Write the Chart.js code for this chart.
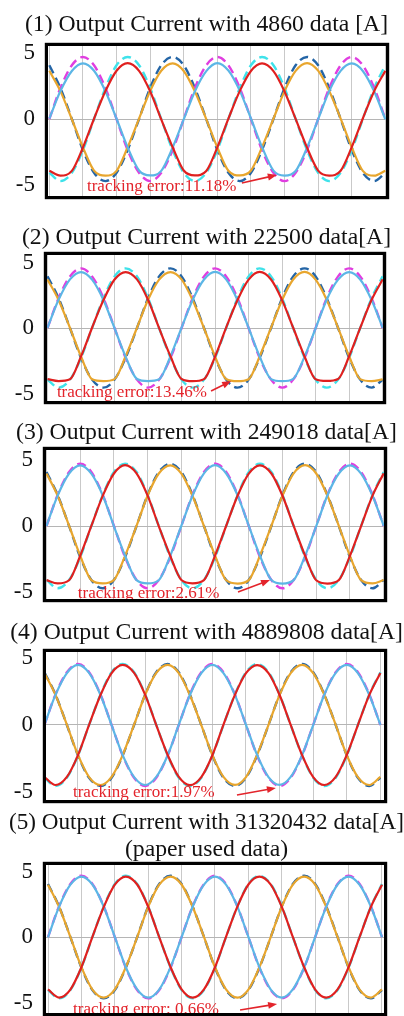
<!DOCTYPE html>
<html>
<head>
<meta charset="utf-8">
<script src="https://cdn.jsdelivr.net/npm/chart.js@4.4.1/dist/chart.umd.min.js"></script>
<style>
html,body{margin:0;padding:0;background:#fff;width:404px;height:1016px;overflow:hidden;position:relative;}
canvas{position:absolute;left:0;}
</style>
</head>
<body>
<script>
// ---------- DATA ----------
// sample times in grid divisions (one division per vertical grid line)
const time = [0,0.33,0.67,1,1.33,1.67,2,2.33,2.67,3,3.33,3.67,4,4.33,4.67,5,5.33,5.67,6,6.33,6.67,7,7.33,7.67,8,8.33,8.67,9,9.33,9.67,10];
const yTickValues = [-5, 0, 5];
const panelTitles = [
  ["(1) Output Current with 4860 data [A]"],
  ["(2) Output Current with 22500 data[A]"],
  ["(3) Output Current with 249018 data[A]"],
  ["(4) Output Current with 4889808 data[A]"],
  ["(5) Output Current with 31320432 data[A]", "(paper used data)"]
];
const errorLabels = ["tracking error:11.18%", "tracking error:13.46%", "tracking error:2.61%", "tracking error:1.97%", "tracking error: 0.66%"];

// Panel 1 (4860 data)
const p1Blue   = [0.04,2.12,3.64,4.22,3.66,2.10,0.02,-2.14,-3.90,-4.27,-3.93,-2.16,-0.03,2.09,3.63,4.24,3.67,2.13,0.04,-2.12,-3.91,-4.29,-3.94,-2.17,-0.02,2.11,3.65,4.21,3.64,2.08,-0.02];
const p1Red    = [-3.92,-4.28,-3.93,-2.16,0.02,2.12,3.66,4.23,3.65,2.10,-0.03,-2.14,-3.90,-4.27,-3.94,-2.15,0.03,2.13,3.64,4.21,3.63,2.09,0.01,-2.17,-3.91,-4.29,-3.92,-2.13,0.04,2.12,3.65];
const p1Yellow = [3.65,2.11,-0.02,-2.15,-3.91,-4.28,-3.93,-2.14,0.03,2.12,3.66,4.22,3.64,2.10,-0.01,-2.16,-3.92,-4.27,-3.90,-2.13,0.02,2.11,3.65,4.24,3.66,2.12,0.03,-2.14,-3.93,-4.29,-3.91];
const p1RefBlue   = [0,2.35,4.07,4.70,4.07,2.35,0,-2.35,-4.07,-4.70,-4.07,-2.35,0,2.35,4.07,4.70,4.07,2.35,0,-2.35,-4.07,-4.70,-4.07,-2.35,0,2.35,4.07,4.70,4.07,2.35,0];
const p1RefRed    = [-4.07,-4.70,-4.07,-2.35,0,2.35,4.07,4.70,4.07,2.35,0,-2.35,-4.07,-4.70,-4.07,-2.35,0,2.35,4.07,4.70,4.07,2.35,0,-2.35,-4.07,-4.70,-4.07,-2.35,0,2.35,4.07];
const p1RefYellow = [4.07,2.35,0,-2.35,-4.07,-4.70,-4.07,-2.35,0,2.35,4.07,4.70,4.07,2.35,0,-2.35,-4.07,-4.70,-4.07,-2.35,0,2.35,4.07,4.70,4.07,2.35,0,-2.35,-4.07,-4.70,-4.07];

// Panel 2 (22500 data)
const p2Blue   = [0.02,2.15,3.71,4.27,3.69,2.13,-0.02,-2.18,-3.89,-4.05,-3.91,-2.16,0.03,2.14,3.70,4.28,3.71,2.12,0.01,-2.17,-3.90,-4.06,-3.88,-2.18,-0.02,2.16,3.69,4.26,3.70,2.14,0.02];
const p2Red    = [-3.90,-4.05,-3.91,-2.17,0.02,2.13,3.70,4.27,3.71,2.15,-0.01,-2.16,-3.89,-4.06,-3.90,-2.18,0.03,2.14,3.69,4.28,3.70,2.13,0.02,-2.17,-3.91,-4.04,-3.89,-2.16,0.01,2.15,3.71];
const p2Yellow = [3.70,2.14,0.01,-2.17,-3.91,-4.05,-3.90,-2.16,0.02,2.15,3.69,4.27,3.71,2.13,-0.02,-2.18,-3.89,-4.06,-3.91,-2.17,0.03,2.14,3.70,4.28,3.69,2.15,0.01,-2.16,-3.90,-4.05,-3.92];
const p2RefBlue   = [0,2.28,3.94,4.55,3.94,2.28,0,-2.28,-3.94,-4.55,-3.94,-2.28,0,2.28,3.94,4.55,3.94,2.28,0,-2.28,-3.94,-4.55,-3.94,-2.28,0,2.28,3.94,4.55,3.94,2.28,0];
const p2RefRed    = [-3.94,-4.55,-3.94,-2.28,0,2.28,3.94,4.55,3.94,2.28,0,-2.28,-3.94,-4.55,-3.94,-2.28,0,2.28,3.94,4.55,3.94,2.28,0,-2.28,-3.94,-4.55,-3.94,-2.28,0,2.28,3.94];
const p2RefYellow = [3.94,2.28,0,-2.28,-3.94,-4.55,-3.94,-2.28,0,2.28,3.94,4.55,3.94,2.28,0,-2.28,-3.94,-4.55,-3.94,-2.28,0,2.28,3.94,4.55,3.94,2.28,0,-2.28,-3.94,-4.55,-3.94];

// Panel 3 (249018 data)
const p3Blue   = [0.01,2.30,3.98,4.60,3.97,2.31,-0.02,-2.25,-4.10,-4.35,-4.11,-2.26,0.02,2.29,3.99,4.61,3.98,2.30,0.01,-2.24,-4.09,-4.36,-4.10,-2.25,-0.01,2.31,3.98,4.60,3.97,2.29,0.02];
const p3Red    = [-4.10,-4.35,-4.11,-2.25,0.01,2.30,3.98,4.61,3.99,2.30,-0.01,-2.26,-4.09,-4.34,-4.10,-2.24,0.02,2.31,3.97,4.60,3.98,2.29,0.01,-2.25,-4.11,-4.36,-4.10,-2.26,-0.01,2.30,3.99];
const p3Yellow = [3.98,2.30,0.02,-2.25,-4.10,-4.35,-4.09,-2.26,0.01,2.31,3.98,4.60,3.97,2.29,-0.01,-2.24,-4.11,-4.36,-4.10,-2.25,0.02,2.30,3.99,4.61,3.98,2.31,0.01,-2.26,-4.10,-4.35,-4.09];
const p3RefBlue   = [0,2.36,4.09,4.72,4.09,2.36,0,-2.36,-4.09,-4.72,-4.09,-2.36,0,2.36,4.09,4.72,4.09,2.36,0,-2.36,-4.09,-4.72,-4.09,-2.36,0,2.36,4.09,4.72,4.09,2.36,0];
const p3RefRed    = [-4.09,-4.72,-4.09,-2.36,0,2.36,4.09,4.72,4.09,2.36,0,-2.36,-4.09,-4.72,-4.09,-2.36,0,2.36,4.09,4.72,4.09,2.36,0,-2.36,-4.09,-4.72,-4.09,-2.36,0,2.36,4.09];
const p3RefYellow = [4.09,2.36,0,-2.36,-4.09,-4.72,-4.09,-2.36,0,2.36,4.09,4.72,4.09,2.36,0,-2.36,-4.09,-4.72,-4.09,-2.36,0,2.36,4.09,4.72,4.09,2.36,0,-2.36,-4.09,-4.72,-4.09];

// Panel 4 (4889808 data)
const p4Blue   = [0.01,2.23,3.85,4.45,3.86,2.22,-0.01,-2.23,-3.86,-4.45,-3.85,-2.24,0.02,2.22,3.85,4.46,3.84,2.23,0.01,-2.22,-3.86,-4.44,-3.85,-2.23,-0.01,2.24,3.86,4.45,3.85,2.22,0.01];
const p4Red    = [-3.86,-4.45,-3.85,-2.23,0.01,2.22,3.85,4.45,3.86,2.23,-0.01,-2.22,-3.85,-4.46,-3.86,-2.24,0.02,2.23,3.84,4.44,3.85,2.22,0.01,-2.23,-3.86,-4.45,-3.85,-2.22,-0.01,2.23,3.86];
const p4Yellow = [3.85,2.23,0.01,-2.22,-3.86,-4.45,-3.85,-2.23,0.02,2.24,3.86,4.45,3.85,2.22,-0.01,-2.23,-3.85,-4.44,-3.86,-2.22,0.01,2.23,3.85,4.46,3.84,2.23,0.01,-2.24,-3.86,-4.45,-3.85];
const p4RefBlue   = [0,2.26,3.91,4.52,3.91,2.26,0,-2.26,-3.91,-4.52,-3.91,-2.26,0,2.26,3.91,4.52,3.91,2.26,0,-2.26,-3.91,-4.52,-3.91,-2.26,0,2.26,3.91,4.52,3.91,2.26,0];
const p4RefRed    = [-3.91,-4.52,-3.91,-2.26,0,2.26,3.91,4.52,3.91,2.26,0,-2.26,-3.91,-4.52,-3.91,-2.26,0,2.26,3.91,4.52,3.91,2.26,0,-2.26,-3.91,-4.52,-3.91,-2.26,0,2.26,3.91];
const p4RefYellow = [3.91,2.26,0,-2.26,-3.91,-4.52,-3.91,-2.26,0,2.26,3.91,4.52,3.91,2.26,0,-2.26,-3.91,-4.52,-3.91,-2.26,0,2.26,3.91,4.52,3.91,2.26,0,-2.26,-3.91,-4.52,-3.91];

// Panel 5 (31320432 data, paper used data)
const p5Blue   = [-0.02,2.30,4.00,4.62,4.01,2.31,0.01,-2.31,-4.00,-4.63,-4.01,-2.30,-0.01,2.31,4.00,4.61,4.00,2.32,0.01,-2.30,-4.01,-4.62,-4.00,-2.31,0.01,2.30,4.01,4.62,3.99,2.31,-0.01];
const p5Red    = [-4.00,-4.62,-4.01,-2.31,0.01,2.30,4.00,4.62,4.01,2.31,-0.01,-2.30,-4.00,-4.63,-4.00,-2.31,0.01,2.32,4.01,4.61,4.00,2.30,0.01,-2.31,-4.01,-4.62,-4.00,-2.30,0.01,2.31,4.00];
const p5Yellow = [4.00,2.31,0.01,-2.30,-4.01,-4.62,-4.00,-2.31,-0.01,2.30,4.00,4.62,4.01,2.31,0.01,-2.31,-4.00,-4.63,-4.01,-2.30,0.01,2.31,4.00,4.61,4.00,2.30,-0.01,-2.31,-4.01,-4.62,-4.00];
const p5RefBlue   = [0,2.34,4.05,4.68,4.05,2.34,0,-2.34,-4.05,-4.68,-4.05,-2.34,0,2.34,4.05,4.68,4.05,2.34,0,-2.34,-4.05,-4.68,-4.05,-2.34,0,2.34,4.05,4.68,4.05,2.34,0];
const p5RefRed    = [-4.05,-4.68,-4.05,-2.34,0,2.34,4.05,4.68,4.05,2.34,0,-2.34,-4.05,-4.68,-4.05,-2.34,0,2.34,4.05,4.68,4.05,2.34,0,-2.34,-4.05,-4.68,-4.05,-2.34,0,2.34,4.05];
const p5RefYellow = [4.05,2.34,0,-2.34,-4.05,-4.68,-4.05,-2.34,0,2.34,4.05,4.68,4.05,2.34,0,-2.34,-4.05,-4.68,-4.05,-2.34,0,2.34,4.05,4.68,4.05,2.34,0,-2.34,-4.05,-4.68,-4.05];

// ---------- LAYOUT / STYLE ----------
const COLORS = {
  red: '#e0201f', yellow: '#e8a62e', blue: '#5cb6e6',
  refBlue: '#e03ee0', refRed: '#3fe2ea', refYellow: '#2465a6',
  grid: '#c9c9c9', zero: '#b5b5b5', note: '#e3242b'
};
const panelSeries = [
  {solid: [p1Red, p1Blue, p1Yellow], ref: [p1RefBlue, p1RefRed, p1RefYellow]},
  {solid: [p2Red, p2Blue, p2Yellow], ref: [p2RefBlue, p2RefRed, p2RefYellow]},
  {solid: [p3Red, p3Blue, p3Yellow], ref: [p3RefBlue, p3RefRed, p3RefYellow]},
  {solid: [p4Red, p4Blue, p4Yellow], ref: [p4RefBlue, p4RefRed, p4RefYellow]},
  {solid: [p5Red, p5Blue, p5Yellow], ref: [p5RefBlue, p5RefRed, p5RefYellow]}
];
const panelLayout = [
  {top: 0,   left: 48, right: 386, plotTop: 46,  plotBottom: 196,  titleY: 25,  xMin: -0.04,  xMax: 10.02, yMin: -5.83, yMax: 5.53,
   note: {text: [1.12, -5.15], from: [5.73, -4.85], to: [6.77, -4.24]}},
  {top: 200, left: 47, right: 383, plotTop: 255, plotBottom: 401,  titleY: 238, xMin: -0.015, xMax: 10.01, yMin: -5.57, yMax: 5.57,
   note: {text: [0.28, -4.96], from: [4.88, -4.81], to: [5.48, -4.05]}},
  {top: 405, left: 46, right: 384, plotTop: 450, plotBottom: 599,  titleY: 433, xMin: -0.015, xMax: 10.01, yMin: -5.53, yMax: 5.76,
   note: {text: [0.93, -5.08], from: [5.68, -5.0], to: [6.63, -4.09]}},
  {top: 605, left: 46, right: 384, plotTop: 652, plotBottom: 800,  titleY: 633, xMin: 0.048,  xMax: 10.107, yMin: -5.56, yMax: 5.41,
   note: {text: [0.85, -5.04], from: [5.73, -5.19], to: [6.89, -4.67]}},
  {top: 805, left: 46, right: 384, plotTop: 865, plotBottom: 1013, titleY: 823, xMin: -0.06,  xMax: 10.06, yMin: -5.8,  yMax: 5.5,
   note: {text: [0.75, -5.5], from: [5.75, -5.57], to: [6.86, -5.11]}}
];
const W = 404, PAD_LEFT = 9, PAD_BOTTOM = 32;
const TITLE_SIZE = 23.7, TITLE_LH = 1.15;
const SERIF = '"Liberation Serif", "Times New Roman", serif';

function lineSet(values, color, dashed) {
  return {
    data: time.map((t, i) => ({x: t, y: values[i]})),
    borderColor: color,
    borderWidth: dashed ? 2.4 : 2.2,
    borderDash: dashed ? [9, 5] : [],
    pointRadius: 0,
    cubicInterpolationMode: 'monotone',
    fill: false
  };
}

const decorPlugin = {
  id: 'decor',
  afterDatasetsDraw(chart, args, opts) {
    const {ctx, chartArea: a} = chart;
    const xs = chart.scales.x, ys = chart.scales.y;
    const n = opts.note;
    ctx.save();
    ctx.fillStyle = COLORS.note;
    ctx.strokeStyle = COLORS.note;
    ctx.font = '17px ' + SERIF;
    ctx.textAlign = 'left';
    ctx.textBaseline = 'middle';
    ctx.fillText(opts.label, xs.getPixelForValue(n.text[0]), ys.getPixelForValue(n.text[1]));
    const x0 = xs.getPixelForValue(n.from[0]), y0 = ys.getPixelForValue(n.from[1]);
    const x1 = xs.getPixelForValue(n.to[0]), y1 = ys.getPixelForValue(n.to[1]);
    const ang = Math.atan2(y1 - y0, x1 - x0);
    const hl = 9, hw = 3.5;
    ctx.lineWidth = 1.6;
    ctx.beginPath();
    ctx.moveTo(x0, y0);
    ctx.lineTo(x1 - hl * 0.8 * Math.cos(ang), y1 - hl * 0.8 * Math.sin(ang));
    ctx.stroke();
    ctx.beginPath();
    ctx.moveTo(x1, y1);
    ctx.lineTo(x1 - hl * Math.cos(ang) + hw * Math.sin(ang), y1 - hl * Math.sin(ang) - hw * Math.cos(ang));
    ctx.lineTo(x1 - hl * Math.cos(ang) - hw * Math.sin(ang), y1 - hl * Math.sin(ang) + hw * Math.cos(ang));
    ctx.closePath();
    ctx.fill();
    ctx.restore();
    // thick black frame around plot area
    ctx.save();
    ctx.lineWidth = 3.2;
    ctx.strokeStyle = '#000';
    ctx.strokeRect(a.left - 1.6, a.top - 1.6, a.width + 3.2, a.height + 3.2);
    ctx.restore();
  }
};

panelLayout.forEach((L, idx) => {
  const lines = panelTitles[idx];
  const lh = TITLE_SIZE * TITLE_LH;
  const canvasH = L.plotBottom - L.top + PAD_BOTTOM;
  const padT = (L.titleY - L.top) - lh / 2;
  const padB = (L.plotTop - L.top) - padT - lh * lines.length;
  const cv = document.createElement('canvas');
  cv.width = W; cv.height = canvasH;
  cv.style.width = W + 'px'; cv.style.height = canvasH + 'px';
  cv.style.top = L.top + 'px';
  document.body.appendChild(cv);
  const S = panelSeries[idx];
  const datasets = [
    lineSet(S.solid[0], COLORS.red, false),
    lineSet(S.solid[1], COLORS.blue, false),
    lineSet(S.solid[2], COLORS.yellow, false),
    lineSet(S.ref[0], COLORS.refBlue, true),
    lineSet(S.ref[1], COLORS.refRed, true),
    lineSet(S.ref[2], COLORS.refYellow, true)
  ];
  new Chart(cv, {
    type: 'line',
    data: {datasets},
    plugins: [decorPlugin],
    options: {
      responsive: false,
      animation: false,
      events: [],
      layout: {padding: {left: PAD_LEFT, right: 0, top: 0, bottom: PAD_BOTTOM}},
      plugins: {
        legend: {display: false},
        tooltip: {enabled: false},
        title: {
          display: true,
          text: lines,
          color: '#111',
          font: {family: SERIF, size: TITLE_SIZE, weight: 'normal', lineHeight: TITLE_LH},
          padding: {top: padT, bottom: padB}
        },
        decor: {label: errorLabels[idx], note: L.note}
      },
      scales: {
        x: {
          type: 'linear', min: L.xMin, max: L.xMax,
          afterBuildTicks: s => { s.ticks = [0,1,2,3,4,5,6,7,8,9,10].filter(v => v >= L.xMin && v <= L.xMax).map(v => ({value: v})); },
          ticks: {display: false},
          grid: {color: COLORS.grid, lineWidth: 1, drawTicks: false},
          border: {display: false}
        },
        y: {
          type: 'linear', min: L.yMin, max: L.yMax,
          afterBuildTicks: s => { s.ticks = yTickValues.map(v => ({value: v})); },
          afterFit: s => { s.width = L.left - PAD_LEFT; },
          ticks: {color: '#111', padding: 13, font: {family: SERIF, size: 23}, callback: v => String(v)},
          grid: {color: c => (c.tick && c.tick.value === 0) ? COLORS.zero : 'rgba(0,0,0,0)', drawTicks: false, lineWidth: 1},
          border: {display: false}
        },
        y2: {
          type: 'linear', position: 'right', display: true,
          afterFit: s => { s.width = W - L.right; },
          ticks: {display: false},
          grid: {display: false, drawTicks: false},
          border: {display: false}
        }
      }
    }
  });
});
</script>
</body>
</html>
